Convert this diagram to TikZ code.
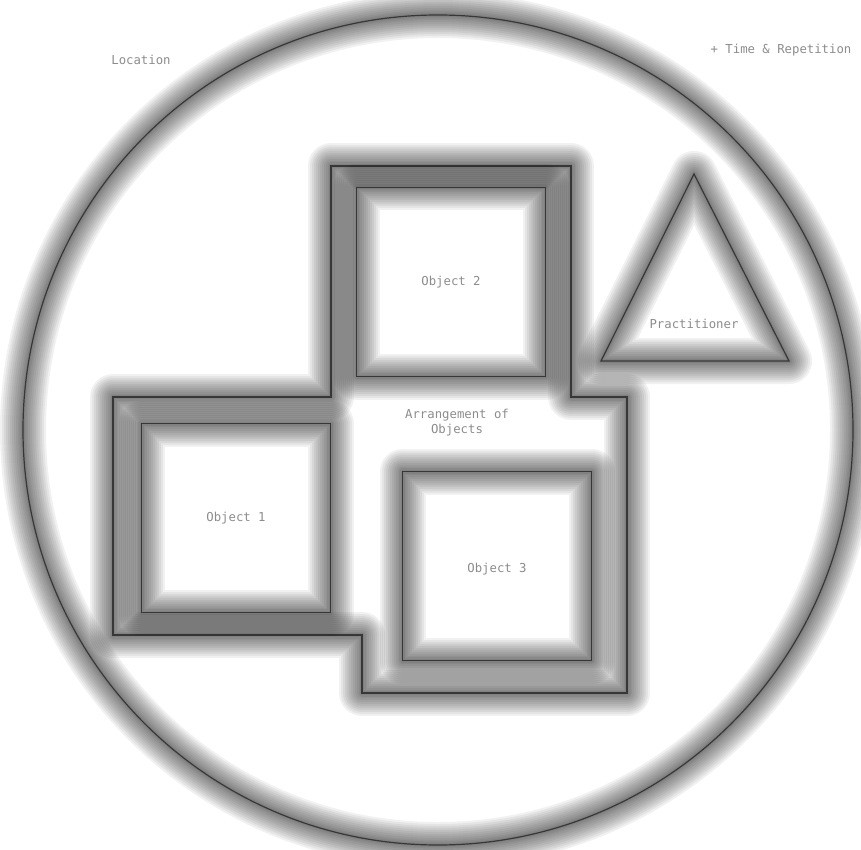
\documentclass[tikz,border=0pt]{standalone}
\usepackage{fontspec}
\setmonofont{DejaVu Sans Mono}
\usetikzlibrary{positioning}
\definecolor{labelgray}{RGB}{140,140,140}
\definecolor{linegray}{RGB}{55,55,55}

\begin{document}
\begin{tikzpicture}[x=1pt, y=-1pt,
    halo/.style={preaction={draw=black, opacity=0.055, line width=#1, line join=round}},
    glow/.style={
        halo=46, halo=42, halo=38, halo=34, halo=30, halo=26,
        halo=22, halo=18, halo=14, halo=10, halo=7, halo=4,
        draw=linegray, line width=1.2},
    objbox/.style={glow, minimum size=189, inner sep=0, outer sep=0},
    lbl/.style={text=labelgray, font=\ttfamily\fontsize{12.3}{15}\selectfont, align=center},
    every node/.style={transform shape=false}]

    \useasboundingbox (0,0) rectangle (861,850);

    % Location circle
    \coordinate (C) at (438,430);
    \draw[glow] (C) circle[radius=415];

    % Arrangement outline
    \coordinate (A1) at (331,166);
    \coordinate (A2) at (571,166);
    \coordinate (A3) at (571,397);
    \coordinate (A4) at (627,397);
    \coordinate (A5) at (627,693);
    \coordinate (A6) at (362,693);
    \coordinate (A7) at (362,635);
    \coordinate (A8) at (113,635);
    \coordinate (A9) at (113,397);
    \coordinate (A10) at (331,397);
    \draw[glow] (A1) -- (A2) -- (A3) -- (A4) -- (A5) -- (A6) -- (A7) -- (A8) -- (A9) -- (A10) -- cycle;

    % Objects
    \node[objbox, lbl] (obj2) at (451,282) {Object 2};
    \node[objbox, lbl] (obj1) at (236,518) {Object 1};
    \node[objbox] (obj3) at (497,566) {};
    \node[lbl] (obj3lbl) at (497,569) {Object 3};

    % Practitioner triangle
    \coordinate (T1) at (694,174);
    \coordinate (T2) at (789,361);
    \coordinate (T3) at (601,361);
    \draw[glow] (T1) -- (T2) -- (T3) -- cycle;
    \node[lbl] (prac) at (694,324) {Practitioner};

    % Labels
    \node[lbl] (arr) at (457,423) {Arrangement of\\Objects};
    \node[lbl] (loc) at (141,60) {Location};
    \node[lbl] (time) at (781,50) {+ Time \& Repetition};

\end{tikzpicture}
\end{document}
